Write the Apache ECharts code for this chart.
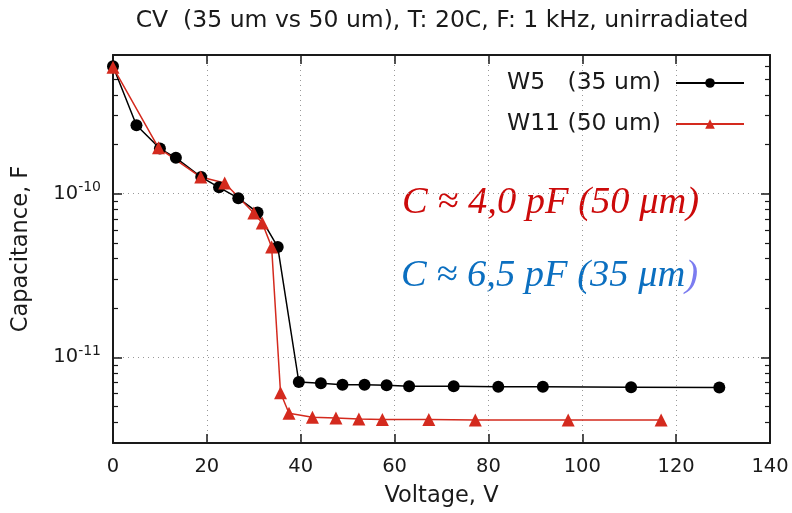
<!DOCTYPE html>
<html>
<head>
<meta charset="utf-8">
<script src="https://cdn.jsdelivr.net/npm/echarts@6/dist/echarts.min.js"></script>
<style>
  html, body { margin: 0; padding: 0; background: #fff; }
  #chart { width: 792px; height: 513px; }
</style>
</head>
<body>
<div id="chart"></div>
<script>
// CV measurement, two sensor thicknesses
const w5Voltage = [0, 5.0, 10.0, 13.4, 18.8, 22.6, 26.7, 30.8, 35.1, 39.6, 44.3, 48.9, 53.6, 58.3, 63.1, 72.6, 82.1, 91.6, 110.4, 129.2];
const w5Cap = [5.97e-10, 2.61e-10, 1.88e-10, 1.65e-10, 1.26e-10, 1.09e-10, 9.36e-11, 7.66e-11, 4.72e-11,
  7.07e-12, 6.94e-12, 6.81e-12, 6.81e-12, 6.75e-12, 6.65e-12, 6.65e-12, 6.62e-12, 6.62e-12, 6.57e-12, 6.54e-12];

const w11Voltage = [0, 9.7, 18.7, 23.8, 30.0, 31.8, 33.8, 35.7, 37.5, 42.5, 47.5, 52.4, 57.4, 67.3, 77.2, 97.0, 116.8];
const w11Cap = [5.9e-10, 1.9e-10, 1.26e-10, 1.16e-10, 7.6e-11, 6.6e-11, 4.72e-11, 6.08e-12, 4.56e-12,
  4.31e-12, 4.27e-12, 4.2e-12, 4.18e-12, 4.18e-12, 4.15e-12, 4.15e-12, 4.15e-12];

const seriesNames = ['W5   (35 um)', 'W11 (50 um)'];
const titleText = 'CV  (35 um vs 50 um), T: 20C, F: 1 kHz, unirradiated';

const xMin = 0, xMax = 140, xStep = 20;
const yMin = 3e-12, yMax = 7e-10;
const yMajor = [1e-11, 1e-10];
const yMinor = [4e-12, 5e-12, 6e-12, 7e-12, 8e-12, 9e-12,
  2e-11, 3e-11, 4e-11, 5e-11, 6e-11, 7e-11, 8e-11, 9e-11,
  2e-10, 3e-10, 4e-10, 5e-10, 6e-10];

const FONT = '"DejaVu Sans", sans-serif';
const SERIF_IT = 'italic 38.5px "Liberation Serif", "Times New Roman", serif';
const INK = '#1a1a1a';
const RED = '#d42a1e';

function pairs(xs, ys) { return xs.map((x, i) => [x, ys[i]]); }

const chart = echarts.init(document.getElementById('chart'), null, { renderer: 'canvas' });

const gridLine = { show: true, lineStyle: { color: '#999', width: 1, type: [1, 4] } };
const majorTick = { show: true, inside: true, length: 9, lineStyle: { color: INK, width: 1.5 } };
const minorTick = { show: true, inside: true, length: 5, lineStyle: { color: INK, width: 1.2 } };
const frameLine = { show: true, lineStyle: { color: INK, width: 2 } };

function yAxisBase(extra) {
  return Object.assign({
    type: 'log', logBase: 10, min: yMin, max: yMax,
    axisLine: { show: false }, axisLabel: { show: false },
    axisTick: { show: false }, splitLine: { show: false }
  }, extra);
}

chart.setOption({
  animation: false,
  title: {
    text: titleText, left: 437, top: 4, textAlign: 'center',
    textStyle: { fontFamily: FONT, fontSize: 23.5, fontWeight: 'normal', color: INK }
  },
  legend: {
    orient: 'vertical', right: 47, top: 71, align: 'right', padding: 0,
    itemWidth: 68, itemHeight: 12, itemGap: 17,
    textStyle: { fontFamily: FONT, fontSize: 23.5, color: INK, padding: [0, 10, 0, 0] },
    data: seriesNames
  },
  grid: { left: 113, right: 22, top: 55, bottom: 70, containLabel: false },
  xAxis: [
    {
      type: 'value', min: xMin, max: xMax, interval: xStep, position: 'bottom',
      name: 'Voltage, V', nameLocation: 'middle', nameGap: 42,
      nameTextStyle: { fontFamily: FONT, fontSize: 22.5, color: INK },
      axisLine: frameLine,
      axisTick: majorTick,
      axisLabel: { fontFamily: FONT, fontSize: 19.5, color: INK, margin: 14 },
      splitLine: gridLine
    },
    {
      type: 'value', min: xMin, max: xMax, interval: xStep, position: 'top',
      axisLine: frameLine,
      axisTick: majorTick,
      axisLabel: { show: false }, splitLine: { show: false }
    }
  ],
  yAxis: [
    yAxisBase({
      position: 'left',
      name: 'Capacitance, F', nameLocation: 'middle', nameGap: 80, nameRotate: 90,
      nameTextStyle: { fontFamily: FONT, fontSize: 22.5, color: INK },
      axisLine: frameLine,
      axisTick: Object.assign({ customValues: yMajor }, majorTick),
      axisLabel: {
        show: true, customValues: yMajor, margin: 12,
        formatter: v => '{b|10}{e|' + Math.round(Math.log10(v)) + '}',
        rich: {
          b: { fontFamily: FONT, fontSize: 19.5, color: INK },
          e: { fontFamily: FONT, fontSize: 14, color: INK, padding: [0, 0, 12, 0] }
        }
      },
      splitLine: gridLine
    }),
    yAxisBase({
      position: 'left',
      axisTick: Object.assign({ customValues: yMinor }, minorTick)
    }),
    yAxisBase({
      position: 'right',
      axisLine: frameLine,
      axisTick: Object.assign({ customValues: yMajor }, majorTick)
    }),
    yAxisBase({
      position: 'right',
      axisTick: Object.assign({ customValues: yMinor }, minorTick)
    })
  ],
  series: [
    {
      name: seriesNames[0], type: 'line', xAxisIndex: 0, yAxisIndex: 0,
      data: pairs(w5Voltage, w5Cap),
      symbol: 'circle', symbolSize: 12,
      itemStyle: { color: '#000' },
      lineStyle: { color: '#000', width: 1.5 }
    },
    {
      name: seriesNames[1], type: 'line', xAxisIndex: 0, yAxisIndex: 0,
      data: pairs(w11Voltage, w11Cap),
      symbol: 'triangle', symbolSize: 13,
      itemStyle: { color: RED },
      lineStyle: { color: RED, width: 1.5 }
    }
  ],
  graphic: [
    {
      type: 'text', left: 402, top: 183,
      style: { text: 'C ≈ 4,0 pF (50 μm)', fill: '#cc0a0a', font: SERIF_IT }
    },
    {
      type: 'text', left: 401, top: 256,
      style: {
        text: '{t|C ≈ 6,5 pF (35 μm}{p|)}',
        rich: {
          t: { fill: '#0b6fc0', font: SERIF_IT },
          p: { fill: '#7b7cf0', font: SERIF_IT }
        }
      }
    }
  ]
});
</script>
</body>
</html>
